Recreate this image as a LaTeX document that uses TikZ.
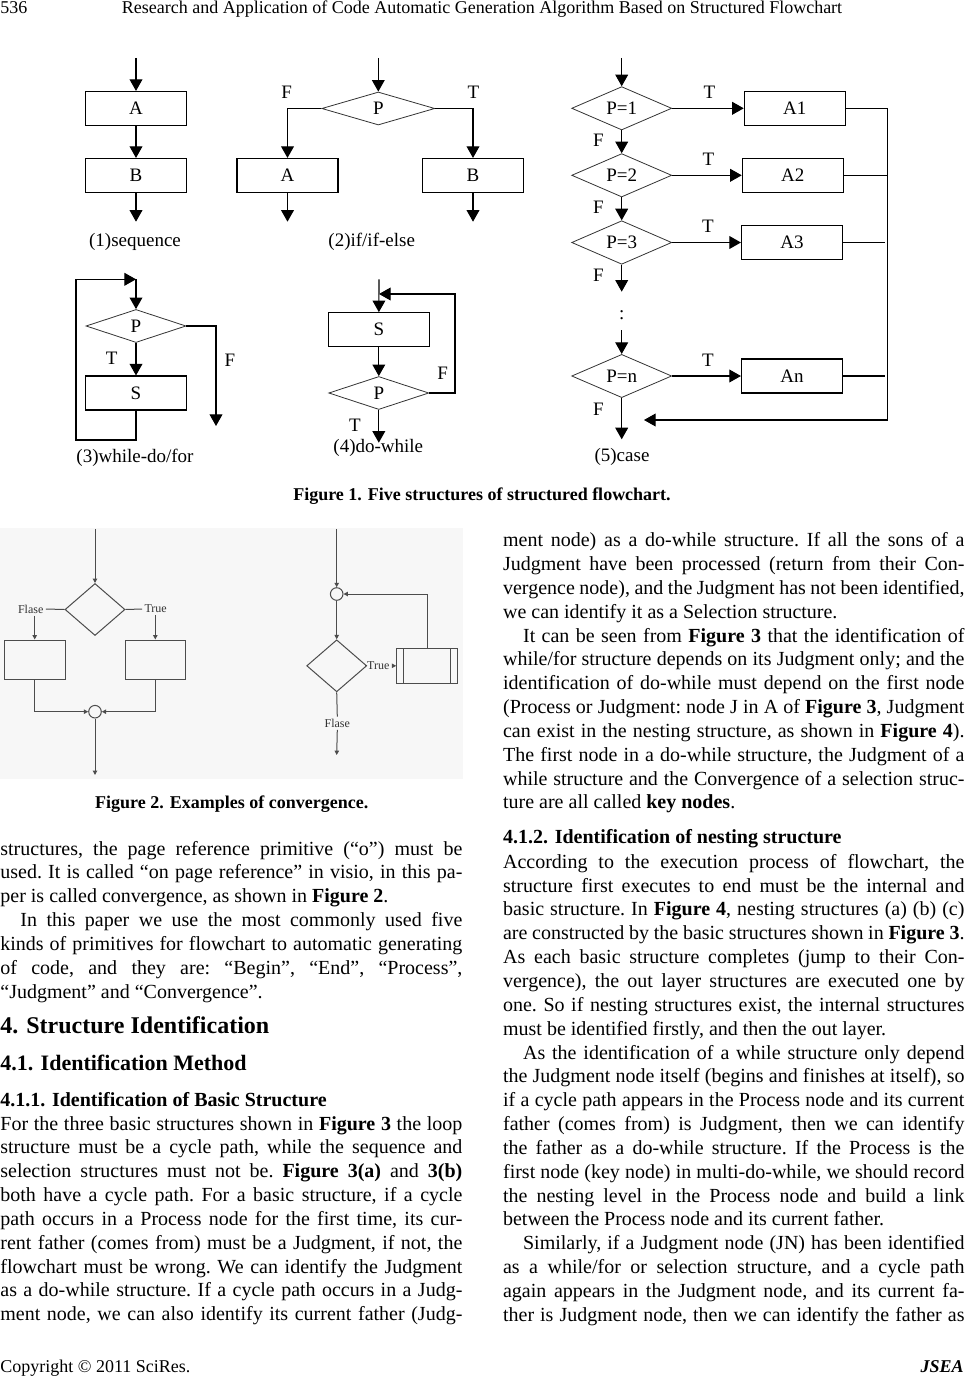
\documentclass[tikz,border=0pt]{standalone}
\usepackage{fontspec}
\setmainfont{Liberation Serif}
\usetikzlibrary{shapes.geometric,arrows.meta,positioning}

\newcommand{\figfont}{\fontsize{9.5}{11}\selectfont}
\newcommand{\tinyfig}{\fontsize{6}{7}\selectfont}
\newcommand{\bodyfont}{\fontsize{10}{11.92}\selectfont\frenchspacing}
\newcommand{\capfont}{\bfseries\fontsize{9}{11}\selectfont}

\begin{document}
\begin{tikzpicture}[x=0.5pt,y=-0.5pt]
    \tikzset{
        block/.style = {rectangle, draw, line width=0.55pt, minimum width=50.5pt, minimum height=17pt, inner sep=0pt, font=\figfont},
        cond/.style = {diamond, draw=black!80, line width=0.4pt, minimum width=50pt, minimum height=16.5pt, inner sep=0pt, font=\figfont},
        note/.style = {inner sep=0pt, font=\figfont},
        line/.style = {draw, line width=0.55pt, -{Triangle[length=5.8pt,width=6.4pt]}},
        wire/.style = {draw, line width=0.55pt},
        fbox/.style = {rectangle, draw=black!70, line width=0.5pt, minimum width=30.3pt, minimum height=19.7pt, inner sep=0pt},
        fcond/.style = {diamond, draw=black!70, line width=0.5pt, minimum width=30pt, minimum height=26pt, inner sep=0pt},
        fjoin/.style = {circle, draw=black!70, line width=0.5pt, minimum size=6.3pt, inner sep=0pt},
        fnote/.style = {inner sep=1pt, font=\tinyfig, text=black!80},
        fline/.style = {draw=black!70, line width=0.5pt, -{Triangle[length=2.2pt,width=2.2pt]}},
        fwire/.style = {draw=black!70, line width=0.5pt},
        para/.style = {anchor=base west, inner sep=0pt, text width=231pt, align=justify, font=\bodyfont},
        head/.style = {anchor=base west, inner sep=0pt},
    }
    \useasboundingbox (0,0) rectangle (969,1386);

    % running head
    \node[head, font=\fontsize{9}{11}\selectfont](pagenum) at (0,14){536};
    \node[anchor=base, inner sep=0pt, font=\fontsize{9}{11}\selectfont](runhead) at (482,14){Research and Application of Code Automatic Generation Algorithm Based on Structured Flowchart};

    % (1) sequence
    \coordinate (seqin) at (136,58);
    \node[block](seqA) at (136,108.5){A};
    \node[block](seqB) at (136,175.5){B};
    \coordinate (seqout) at (136,221.7);
    \node[note](seqcap) at (135,242){(1)sequence};
    \path [line] (seqin) -- (seqA);
    \path [line] (seqA) -- (seqB);
    \path [line] (seqB) -- (seqout);

    % (2) if/if-else
    \coordinate (ifin) at (378.3,58);
    \node[cond, minimum width=56.5pt](ifP) at (378.3,108.5){P};
    \node[block](ifA) at (287.5,175.5){A};
    \node[block](ifB) at (473,175.5){B};
    \node[note](ifF) at (286.7,92.7){F};
    \node[note](ifT) at (473.3,92){T};
    \coordinate (ifAout) at (287.5,221.7);
    \coordinate (ifBout) at (473,221.7);
    \node[note](ifcap) at (371.7,241.7){(2)if/if-else};
    \path [line] (ifin) -- (ifP);
    \path [line] (ifP.west) -| (ifA);
    \path [line] (ifP.east) -| (ifB);
    \path [line] (ifA) -- (ifAout);
    \path [line] (ifB) -- (ifBout);

    % (3) while-do/for
    \coordinate (whin) at (136,279.3);
    \node[cond](whP) at (136,326){P};
    \node[block](whS) at (136,393){S};
    \coordinate (whback) at (76,440);
    \coordinate (whout) at (216,426);
    \node[note](whT) at (111.7,358.3){T};
    \node[note](whF) at (230,360){F};
    \node[note](whcap) at (135,458.3){(3)while-do/for};
    \path [line] (whin) -- (whP);
    \path [line] (whP) -- (whS);
    \path [line] (whS.south) |- (whback) |- (whin);
    \path [line] (whP.east) -| (whout);

    % (4) do-while
    \coordinate (dwin) at (379,279.3);
    \node[block](dwS) at (378.8,329.7){S};
    \node[cond](dwP) at (378.8,393){P};
    \coordinate (dwjoin) at (379,294);
    \coordinate (dwturn) at (455,294);
    \coordinate (dwout) at (378.8,442.7);
    \node[note](dwF) at (442.7,373.3){F};
    \node[note](dwT) at (355,425){T};
    \node[note](dwcap) at (378.3,448){(4)do-while};
    \path [line] (dwin) -- (dwS);
    \path [line] (dwS) -- (dwP);
    \path [line] (dwP.east) -| (dwturn) -- (dwjoin);
    \path [line] (dwP) -- (dwout);

    % (5) case
    \coordinate (csin) at (621.7,58);
    \node[cond](c1) at (621.7,108.3){P=1};
    \node[cond](c2) at (621.7,175.3){P=2};
    \node[cond](c3) at (621.7,242.5){P=3};
    \coordinate (c3out) at (621.7,291.7);
    \node[note](cdots) at (621.7,315){:};
    \coordinate (cnin) at (621.7,330);
    \node[cond](cn) at (621.7,376){P=n};
    \coordinate (cnout) at (621.7,439.3);
    \node[block](a1) at (794.8,108.3){A1};
    \node[block](a2) at (792.8,175.3){A2};
    \node[block](a3) at (792,242.5){A3};
    \node[block](an) at (792,376){An};
    \node[note](cT1) at (709.3,92.3){T};
    \node[note](cT2) at (708.3,159.7){T};
    \node[note](cT3) at (708,226.3){T};
    \node[note](cTn) at (708,360.7){T};
    \node[note](cF1) at (598.3,140.7){F};
    \node[note](cF2) at (598.3,207.3){F};
    \node[note](cF3) at (598.3,275.7){F};
    \node[note](cFn) at (598.3,409.3){F};
    \coordinate (bus1) at (887.7,108.3);
    \coordinate (bus2) at (887.7,175.3);
    \coordinate (bus3) at (885,242.5);
    \coordinate (busn) at (885,376);
    \coordinate (busend) at (887.7,420);
    \coordinate (cjoin) at (644,420);
    \node[note](cscap) at (622,457.3){(5)case};
    \path [line] (csin) -- (c1);
    \path [line] (c1) -- (c2);
    \path [line] (c2) -- (c3);
    \path [line] (c3) -- (c3out);
    \path [line] (cnin) -- (cn);
    \path [line] (cn) -- (cnout);
    \path [line] (c1) -- (a1);
    \path [line] (c2) -- (a2);
    \path [line] (c3) -- (a3);
    \path [line] (cn) -- (an);
    \path [wire] (a1) -- (bus1);
    \path [wire] (a2) -- (bus2);
    \path [wire] (a3) -- (bus3);
    \path [wire] (an) -- (busn);
    \path [line] (bus1) -- (busend) -- (cjoin);

    \node[anchor=base, inner sep=0pt, font=\capfont](fig1cap) at (482,500){Figure 1. Five structures of structured flowchart.};

    % figure 2, convergence
    \fill[black!3] (0,528) rectangle (463,779);

    \coordinate (cvin) at (95,529);
    \node[fcond](cvJ) at (95,609.5){};
    \node[fnote](cvF) at (30.7,609){Flase};
    \node[fnote](cvT) at (155.7,609){True};
    \node[fbox](cvL) at (34.7,659.7){};
    \node[fbox](cvR) at (155.3,659.7){};
    \node[fjoin](cvC) at (95,711.7){};
    \coordinate (cvout) at (95,775);
    \path [fline] (cvin) -- (cvJ);
    \path [fwire] (cvJ.west) -- (cvF.east);
    \path [fwire] (cvJ.east) -- (cvT.west);
    \path [fline] (cvF.south -| cvL.north) -- (cvL.north);
    \path [fline] (cvT.south -| cvR.north) -- (cvR.north);
    \path [fline] (cvL.south) |- (cvC);
    \path [fline] (cvR.south) |- (cvC);
    \path [fline] (cvC) -- (cvout);

    \coordinate (cwin) at (336.7,529);
    \node[fjoin](cwC) at (336.7,594){};
    \node[fcond](cwJ) at (336.7,665.8){};
    \node[fnote](cwT) at (378.3,665.8){True};
    \node[fbox, minimum height=17.2pt](cwS) at (427,665.8){};
    \node[fnote](cwF) at (337.3,723.3){Flase};
    \coordinate (cwout) at (336.7,755);
    \path [fwire] ([xshift=3.65pt]cwS.north west) -- ([xshift=3.65pt]cwS.south west);
    \path [fwire] ([xshift=-3.65pt]cwS.north east) -- ([xshift=-3.65pt]cwS.south east);
    \path [fline] (cwin) -- (cwC);
    \path [fline] (cwC) -- (cwJ);
    \path [fwire] (cwJ.east) -- (cwT.west);
    \path [fline] (cwT.east) -- (cwS.west);
    \path [fline] (cwS.north) |- (cwC);
    \path [fwire] (cwJ.south) -- (cwF.north);
    \path [fline] (cwF.south) -- (cwout);

    \node[anchor=base, inner sep=0pt, font=\capfont](fig2cap) at (231.7,808){Figure 2. Examples of convergence.};

    % left column
    \node[para](leftA) at (0,855){structures, the page reference primitive (“o”) must be\linebreak
used. It is called “on page reference” in visio, in this pa-\linebreak
per is called convergence, as shown in \textbf{Figure 2}.\par
\hspace*{1em}In this paper we use the most commonly used five\linebreak
kinds of primitives for flowchart to automatic generating\linebreak
of code, and they are: “Begin”, “End”, “Process”,\linebreak
“Judgment” and “Convergence”.};

    \node[head, font=\bfseries\fontsize{12}{14}\selectfont](sec4) at (0,1033.3){4. Structure Identification};
    \node[head, font=\bfseries\fontsize{11}{13}\selectfont](sec41) at (0,1070){4.1. Identification Method};
    \node[head, font=\bfseries\fontsize{10}{12}\selectfont](sec411) at (0,1106){4.1.1. Identification of Basic Structure};

    \node[para](leftB) at (0,1130){For the three basic structures shown in \textbf{Figure 3} the loop\linebreak
structure must be a cycle path, while the sequence and\linebreak
selection structures must not be. \textbf{Figure 3(a)} and \textbf{3(b)}\linebreak
both have a cycle path. For a basic structure, if a cycle\linebreak
path occurs in a Process node for the first time, its cur-\linebreak
rent father (comes from) must be a Judgment, if not, the\linebreak
flowchart must be wrong. We can identify the Judgment\linebreak
as a do-while structure. If a cycle path occurs in a Judg-\linebreak
ment node, we can also identify its current father (Judg-{\parfillskip=0pt\par}};

    % right column
    \node[para, text width=230.7pt](rightA) at (502.7,546.7){ment node) as a do-while structure. If all the sons of a\linebreak
Judgment have been processed (return from their Con-\linebreak
vergence node), and the Judgment has not been identified,\linebreak
we can identify it as a Selection structure.\par
\hspace*{1em}It can be seen from \textbf{Figure 3} that the identification of\linebreak
while/for structure depends on its Judgment only; and the\linebreak
identification of do-while must depend on the first node\linebreak
(Process or Judgment: node J in A of \textbf{Figure 3}, Judgment\linebreak
can exist in the nesting structure, as shown in \textbf{Figure 4}).\linebreak
The first node in a do-while structure, the Judgment of a\linebreak
while structure and the Convergence of a selection struc-\linebreak
ture are all called \textbf{key nodes}.};

    \node[head, font=\bfseries\fontsize{10}{12}\selectfont](sec412) at (502.7,843.3){4.1.2. Identification of nesting structure};

    \node[para, text width=230.7pt](rightB) at (502.7,868.3){According to the execution process of flowchart, the\linebreak
structure first executes to end must be the internal and\linebreak
basic structure. In \textbf{Figure 4}, nesting structures (a) (b) (c)\linebreak
are constructed by the basic structures shown in \textbf{Figure 3}.\linebreak
As each basic structure completes (jump to their Con-\linebreak
vergence), the out layer structures are executed one by\linebreak
one. So if nesting structures exist, the internal structures\linebreak
must be identified firstly, and then the out layer.\par
\hspace*{1em}As the identification of a while structure only depend\linebreak
the Judgment node itself (begins and finishes at itself), so\linebreak
if a cycle path appears in the Process node and its current\linebreak
father (comes from) is Judgment, then we can identify\linebreak
the father as a do-while structure. If the Process is the\linebreak
first node (key node) in multi-do-while, we should record\linebreak
the nesting level in the Process node and build a link\linebreak
between the Process node and its current father.\par
\hspace*{1em}Similarly, if a Judgment node (JN) has been identified\linebreak
as a while/for or selection structure, and a cycle path\linebreak
again appears in the Judgment node, and its current fa-\linebreak
ther is Judgment node, then we can identify the father as{\parfillskip=0pt\par}};

    % footer
    \node[head, font=\fontsize{9}{11}\selectfont](copyr) at (0,1372){Copyright © 2011 SciRes.};
    \node[anchor=base east, inner sep=0pt, font=\bfseries\itshape\fontsize{9}{11}\selectfont](journal) at (964,1372){JSEA};

\end{tikzpicture}
\end{document}
